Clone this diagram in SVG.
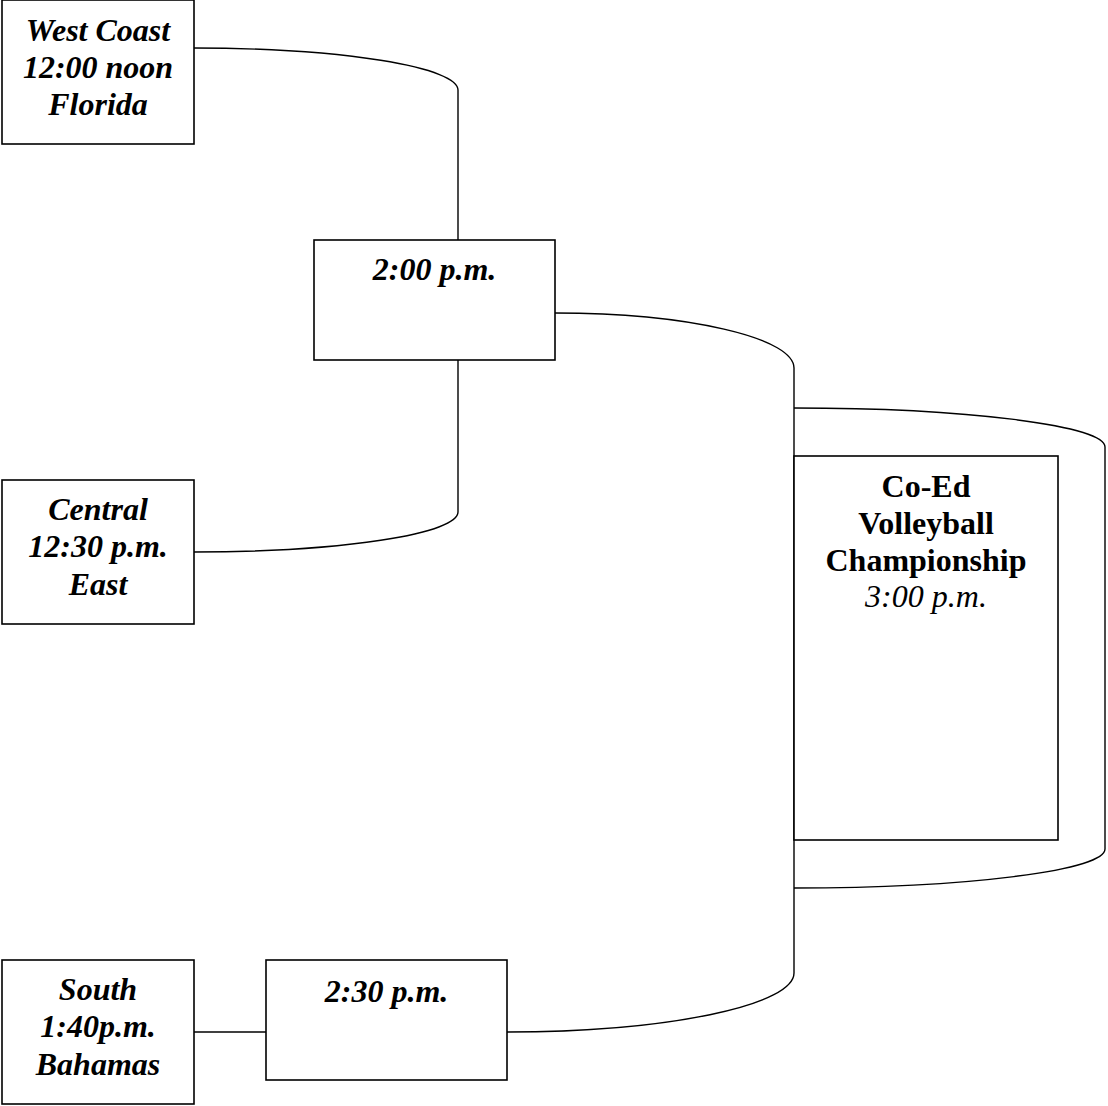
<svg xmlns="http://www.w3.org/2000/svg" width="1108" height="1106" viewBox="0 0 1108 1106">
<style>
  .box { fill: #ffffff; stroke: #000000; stroke-width: 1.6; }
  .conn { fill: none; stroke: #000000; stroke-width: 1.4; }
  text { font-family: "Liberation Serif", "Times New Roman", serif; font-size: 32px; fill: #000000; text-anchor: middle; }
  .bi { font-weight: bold; font-style: italic; }
  .b { font-weight: bold; }
  .i { font-style: italic; }
</style>
<rect width="1108" height="1106" fill="#ffffff"/>
<g id="connectors">
  <path class="conn" d="M194,48 A264,42 0 0 1 458,90 L458,240"/>
  <path class="conn" d="M458,360 L458,512 A264,40 0 0 1 194,552"/>
  <path class="conn" d="M555,313 A239,55 0 0 1 794,368 L794,973 A287,59 0 0 1 507,1032"/>
  <path class="conn" d="M794,408 A311,39 0 0 1 1105,447 L1105,849 A311,39 0 0 1 794,888"/>
  <path class="conn" d="M194,1032 L266,1032"/>
</g>
<g id="west-coast">
  <rect class="box" x="2" y="0" width="192" height="144"/>
  <text class="bi" x="98" y="41">West Coast</text>
  <text class="bi" x="98" y="78">12:00 noon</text>
  <text class="bi" x="98" y="115">Florida</text>
</g>
<g id="game-200">
  <rect class="box" x="314" y="240" width="241" height="120"/>
  <text class="bi" x="434.5" y="280">2:00 p.m.</text>
</g>
<g id="central">
  <rect class="box" x="2" y="480" width="192" height="144"/>
  <text class="bi" x="98" y="520">Central</text>
  <text class="bi" x="98" y="557">12:30 p.m.</text>
  <text class="bi" x="98" y="595">East</text>
</g>
<g id="championship">
  <rect class="box" x="794" y="456" width="264" height="384"/>
  <text class="b" x="926" y="497">Co-Ed</text>
  <text class="b" x="926" y="534">Volleyball</text>
  <text class="b" x="926" y="571">Championship</text>
  <text class="i" x="926" y="607">3:00 p.m.</text>
</g>
<g id="south">
  <rect class="box" x="2" y="960" width="192" height="144"/>
  <text class="bi" x="98" y="1000">South</text>
  <text class="bi" x="98" y="1037">1:40p.m.</text>
  <text class="bi" x="98" y="1075">Bahamas</text>
</g>
<g id="game-230">
  <rect class="box" x="266" y="960" width="241" height="120"/>
  <text class="bi" x="386.5" y="1002">2:30 p.m.</text>
</g>
</svg>
